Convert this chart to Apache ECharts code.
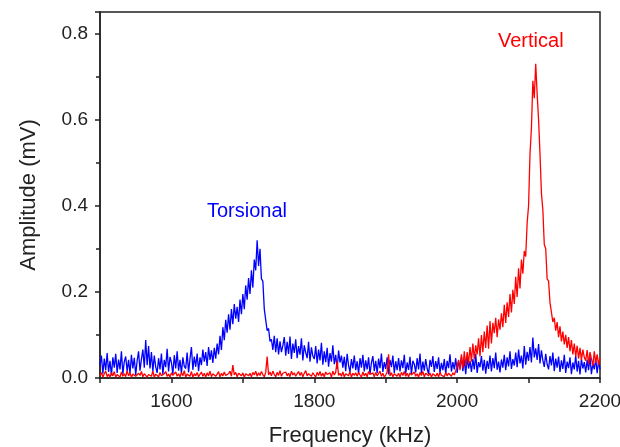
<!DOCTYPE html>
<html>
<head>
<meta charset="utf-8">
<script src="https://cdn.jsdelivr.net/npm/echarts@6/dist/echarts.min.js"></script>
<style>html,body{margin:0;padding:0;background:#fff}#c{width:620px;height:447px}</style>
</head>
<body>
<div id="c"></div>
<script>
// Frequency grid (kHz): start, step
const freqStart = 1500;
const freqStep = 2;
// Amplitudes in microvolts (µV), one per frequency step
const torsionalUV = [
30,52,10,45,18,58,14,40,6,48,
24,56,12,43,20,62,9,38,50,16,
42,10,54,22,47,7,40,62,17,44,
66,24,88,30,74,22,60,15,52,26,
12,46,20,57,8,42,25,68,15,49,
36,9,53,22,62,17,42,11,48,27,
22,59,13,45,72,19,50,26,57,16,
48,30,66,38,60,28,72,42,64,35,
70,45,80,55,98,65,118,88,135,105,
148,112,160,125,172,138,165,130,182,148,
195,160,215,182,232,195,250,210,275,250,
320,260,300,230,225,160,160,110,115,85,
90,65,98,60,92,55,85,60,75,95,
52,84,56,96,44,80,58,90,46,74,
54,92,41,76,59,46,84,38,71,51,
44,74,34,66,41,82,31,62,37,70,
26,58,38,76,32,54,21,64,36,52,
24,49,16,56,29,14,44,22,52,18,
39,10,46,24,54,15,41,20,48,9,
35,51,16,40,11,45,23,57,14,37,
21,48,8,42,25,52,12,39,18,46,
15,41,23,54,10,36,19,49,9,40,
32,13,46,20,57,11,38,17,44,22,
9,42,26,51,14,39,21,48,12,35,
18,44,10,40,23,55,15,37,20,46,
12,38,24,50,16,42,9,47,22,39,
14,44,20,56,12,37,25,51,17,42,
10,40,21,52,15,46,23,59,19,38,
13,43,24,54,18,48,27,62,21,44,
29,59,25,66,34,52,22,74,31,61,
40,72,36,94,48,69,42,79,34,64,
41,26,56,32,20,51,29,59,16,45,
24,50,14,41,21,54,12,38,23,48,
9,36,20,52,15,40,8,44,22,37,
13,42,18,49,9,34,20,45,11,39,
20
];
const verticalUV = [
4,13,2,10,16,3,9,2,12,5,
15,2,8,11,2,14,4,10,3,17,
5,12,2,9,13,4,2,11,6,15,
3,10,14,2,8,12,4,16,2,9,
11,3,13,5,2,10,15,4,9,2,
12,6,2,14,4,10,3,13,5,17,
2,9,11,4,15,2,10,5,13,3,
6,14,4,11,2,12,5,16,3,10,
13,4,9,15,2,11,5,14,6,3,
10,16,4,30,7,13,3,11,15,5,
12,2,10,14,5,11,3,13,7,16,
4,12,6,15,8,3,13,50,7,14,
5,16,8,3,13,6,17,4,11,7,
14,5,11,3,16,7,12,4,10,15,
6,13,3,11,17,5,10,14,4,12,
7,2,13,6,15,4,11,3,14,8,
5,12,2,16,7,13,40,6,11,4,
14,3,10,13,5,15,2,11,6,12,
4,13,7,2,14,5,11,3,15,8,
6,12,3,13,5,10,16,4,11,2,
7,14,55,5,12,3,10,13,4,11,
2,13,6,15,4,11,3,12,7,5,
14,4,10,2,13,6,15,3,11,7,
5,12,2,10,14,4,11,3,13,6,
8,3,13,5,11,15,4,12,7,16,
12,42,18,55,22,62,28,60,34,72,
38,80,44,76,55,92,50,100,60,108,
70,122,68,132,80,128,104,140,95,136,
112,150,118,170,128,176,142,195,152,205,
172,235,188,255,208,275,242,295,282,360,
400,520,580,690,650,730,660,600,520,430,
390,310,300,230,225,175,175,130,140,110,
130,95,120,85,108,78,100,70,95,62,
88,55,80,50,75,45,70,42,66,48,
40,65,32,60,45,28,62,35,55,30,
48
];
const xTickLabels = ['1600','1800','2000','2200'];
const yTickLabels = ['0.0','0.2','0.4','0.6','0.8'];
const seriesNames = ['Torsional','Vertical'];

function toPairs(arr){ return arr.map((v,i)=>[freqStart + i*freqStep, v/1000]); }

const FONT = 'Liberation Sans, Arial, sans-serif';
const chart = echarts.init(document.getElementById('c'), null, {renderer:'canvas'});
chart.setOption({
  animation: false,
  backgroundColor: '#fff',
  grid: {left: 100, right: 20, top: 12, bottom: 69, containLabel: false, outerBoundsMode: 'none',
         show: true, borderColor: '#222', borderWidth: 1.5, backgroundColor: 'transparent'},
  xAxis: {
    type: 'value', min: 1500, max: 2200, interval: 100,
    name: 'Frequency (kHz)', nameLocation: 'middle', nameGap: 47,
    nameTextStyle: {fontFamily: FONT, fontSize: 22, color: '#222'},
    axisLine: {show: true, onZero: false, lineStyle: {color: '#222', width: 1.5}},
    axisTick: {show: true, inside: false, length: 5, lineStyle: {color: '#222', width: 1.5}},
    splitLine: {show: false},
    axisLabel: {fontFamily: FONT, fontSize: 19, color: '#222', margin: 14,
      formatter: v => xTickLabels.indexOf(String(v)) >= 0 ? String(v) : ''}
  },
  yAxis: {
    type: 'value', min: 0, max: 0.85, interval: 0.2,
    name: 'Amplitude (mV)', nameLocation: 'middle', nameGap: 60, nameRotate: 90,
    nameTextStyle: {fontFamily: FONT, fontSize: 22, color: '#222'},
    axisLine: {show: true, onZero: false, lineStyle: {color: '#222', width: 1.5}},
    axisTick: {show: true, inside: false, length: 5, lineStyle: {color: '#222', width: 1.5}},
    minorTick: {show: true, splitNumber: 2, length: 4, lineStyle: {color: '#222', width: 1.5}},
    splitLine: {show: false},
    axisLabel: {fontFamily: FONT, fontSize: 19, color: '#222', margin: 12, showMaxLabel: false,
      formatter: v => { const s = v.toFixed(1); return (yTickLabels.indexOf(s) >= 0 && Math.abs(v - parseFloat(s)) < 1e-6) ? s : ''; }}
  },
  graphic: [
    {type: 'text', left: 207, top: 201, style: {text: seriesNames[0], fill: '#0000ff', font: '20px ' + FONT}},
    {type: 'text', left: 498, top: 31, style: {text: seriesNames[1], fill: '#ff0000', font: '20px ' + FONT}}
  ],
  series: [
    {name: seriesNames[0], type: 'line', data: toPairs(torsionalUV), showSymbol: false, symbol: 'none',
     lineStyle: {color: '#0000ff', width: 1.3}, sampling: null, z: 2},
    {name: seriesNames[1], type: 'line', data: toPairs(verticalUV), showSymbol: false, symbol: 'none',
     lineStyle: {color: '#ff0000', width: 1.3}, sampling: null, z: 3}
  ]
});
</script>
</body>
</html>
